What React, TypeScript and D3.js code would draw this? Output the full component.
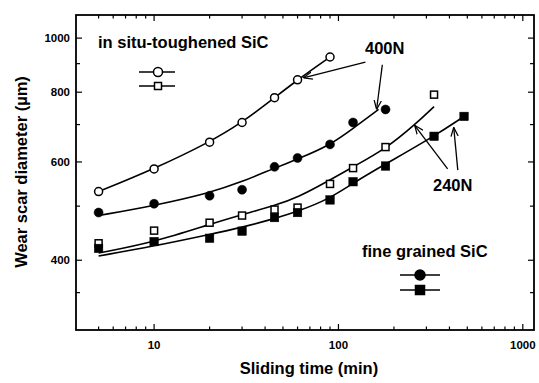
import React, { useLayoutEffect, useRef } from "react";
import * as d3 from "d3";

const W = 539;
const H = 383;
const margin = { top: 15, right: 5, bottom: 53, left: 76 };

// in situ-toughened SiC, 400N (open circles)
const insitu400Times = [5, 10, 20, 30, 45, 60, 90];
const insitu400 = [531, 583, 651, 706, 782, 842, 925];
// fine grained SiC, 400N (filled circles)
const fine400Times = [5, 10, 20, 30, 45, 60, 90, 120, 180];
const fine400 = [487, 505, 522, 535, 588, 610, 645, 706, 745];
// in situ-toughened SiC, 240N (open squares)
const insitu240Times = [5, 10, 20, 30, 45, 60, 90, 120, 180, 330];
const insitu240 = [429, 452, 467, 481, 493, 497, 548, 585, 638, 792];
// fine grained SiC, 240N (filled squares)
const fine240Times = [5, 10, 20, 30, 45, 60, 90, 120, 180, 330, 480];
const fine240 = [420, 432, 438, 451, 477, 487, 513, 553, 590, 667, 724];

// fitted curves
const fitInsitu400Times = [5, 10, 20, 30, 45, 60, 90];
const fitInsitu400 = [531, 583, 651, 706, 782, 842, 925];
const fitFine400Times = [5, 10, 20, 30, 45, 60, 90, 120, 165];
const fitFine400 = [481, 501, 528, 553, 585, 607, 643, 689, 745];
const fitInsitu240Times = [5, 10, 20, 30, 45, 60, 90, 120, 180, 260, 330];
const fitInsitu240 = [412, 431, 464, 483, 501, 518, 557, 588, 633, 700, 754];
const fitFine240Times = [5, 10, 20, 30, 45, 60, 90, 120, 180, 330, 480];
const fitFine240 = [407, 424, 445, 458, 475, 489, 516, 550, 595, 667, 724];

const xMajor = [10, 100, 1000];
const xMinor = [5, 6, 7, 8, 9, 20, 30, 40, 50, 60, 70, 80, 90, 200, 300, 400, 500, 600, 700, 800, 900];
const yMajor = [400, 600, 800, 1000];
const yMinor = [350, 500, 700, 900];

const FONT = "'Liberation Sans', Arial, Helvetica, sans-serif";

export default function App() {
  const svgRef = useRef<SVGSVGElement>(null);

  useLayoutEffect(() => {
    const svg = d3.select(svgRef.current);
    svg.selectAll("*").remove();

    const left = margin.left;
    const right = W - margin.right;
    const top = margin.top;
    const bottom = H - margin.bottom;

    const x = d3.scaleLog().domain([3.77, 1150]).range([left, right]);
    const y = d3.scaleLog().domain([300, 1100]).range([bottom, top]);

    svg.append("rect").attr("width", W).attr("height", H).attr("fill", "#fff");

    // arrow marker
    svg
      .append("defs")
      .append("marker")
      .attr("id", "arr")
      .attr("viewBox", "0 0 10 10")
      .attr("refX", 10)
      .attr("refY", 5)
      .attr("markerWidth", 9)
      .attr("markerHeight", 9)
      .attr("markerUnits", "userSpaceOnUse")
      .attr("orient", "auto")
      .append("path")
      .attr("d", "M0,1 L10,5 L0,9")
      .attr("fill", "none")
      .attr("stroke", "#000")
      .attr("stroke-width", 1.4);

    // frame + ticks
    const axis = svg.append("g").attr("stroke", "#000").attr("fill", "none");
    axis
      .append("rect")
      .attr("x", left)
      .attr("y", top)
      .attr("width", right - left)
      .attr("height", bottom - top)
      .attr("stroke-width", 1.8);

    const xt = [...xMajor.map((v) => ({ v, len: 6 })), ...xMinor.map((v) => ({ v, len: 3.5 }))];
    xt.forEach(({ v, len }) => {
      axis.append("line").attr("x1", x(v)).attr("x2", x(v)).attr("y1", bottom).attr("y2", bottom - len).attr("stroke-width", 1.2);
      axis.append("line").attr("x1", x(v)).attr("x2", x(v)).attr("y1", top).attr("y2", top + len).attr("stroke-width", 1.2);
    });
    const yt = [...yMajor.map((v) => ({ v, len: 6 })), ...yMinor.map((v) => ({ v, len: 4 }))];
    yt.forEach(({ v, len }) => {
      axis.append("line").attr("x1", left).attr("x2", left + len).attr("y1", y(v)).attr("y2", y(v)).attr("stroke-width", 1.2);
      axis.append("line").attr("x1", right).attr("x2", right - len).attr("y1", y(v)).attr("y2", y(v)).attr("stroke-width", 1.2);
    });

    // tick labels
    svg
      .append("g")
      .selectAll("text")
      .data(xMajor)
      .join("text")
      .attr("x", (d) => x(d))
      .attr("y", bottom + 19)
      .attr("text-anchor", "middle")
      .attr("font-family", FONT)
      .attr("font-weight", "bold")
      .attr("font-size", 11.5)
      .text((d) => d);
    svg
      .append("g")
      .selectAll("text")
      .data(yMajor)
      .join("text")
      .attr("x", left - 6)
      .attr("y", (d) => y(d) + 4)
      .attr("text-anchor", "end")
      .attr("font-family", FONT)
      .attr("font-weight", "bold")
      .attr("font-size", 11.5)
      .text((d) => d);

    // axis titles
    svg
      .append("text")
      .attr("x", 309)
      .attr("y", 374)
      .attr("text-anchor", "middle")
      .attr("font-family", FONT)
      .attr("font-weight", "bold")
      .attr("font-size", 16.5)
      .text("Sliding time (min)");
    svg
      .append("text")
      .attr("transform", "translate(27,172) rotate(-90)")
      .attr("text-anchor", "middle")
      .attr("font-family", FONT)
      .attr("font-weight", "bold")
      .attr("font-size", 16.5)
      .text("Wear scar diameter (\u00b5m)");

    // fitted curves
    const line = d3
      .line<[number, number]>()
      .x((d) => x(d[0]))
      .y((d) => y(d[1]))
      .curve(d3.curveBasis);
    const fits: [number[], number[]][] = [
      [fitInsitu400Times, fitInsitu400],
      [fitFine400Times, fitFine400],
      [fitInsitu240Times, fitInsitu240],
      [fitFine240Times, fitFine240],
    ];
    const gl = svg.append("g").attr("fill", "none").attr("stroke", "#000").attr("stroke-width", 1.6);
    fits.forEach(([ts, vs]) => {
      gl.append("path").attr("d", line(ts.map((t, i) => [t, vs[i]] as [number, number])));
    });

    // markers
    const pts = (ts: number[], vs: number[]) => ts.map((t, i) => ({ t, v: vs[i] }));
    const gm = svg.append("g").attr("stroke", "#000");
    gm.selectAll(".oc")
      .data(pts(insitu400Times, insitu400))
      .join("circle")
      .attr("cx", (d) => x(d.t))
      .attr("cy", (d) => y(d.v))
      .attr("r", 4)
      .attr("fill", "#fff")
      .attr("stroke-width", 1.5);
    gm.selectAll(".fc")
      .data(pts(fine400Times, fine400))
      .join("circle")
      .attr("cx", (d) => x(d.t))
      .attr("cy", (d) => y(d.v))
      .attr("r", 4.5)
      .attr("fill", "#000")
      .attr("stroke-width", 0.5);
    gm.selectAll(".os")
      .data(pts(insitu240Times, insitu240))
      .join("rect")
      .attr("x", (d) => x(d.t) - 3.5)
      .attr("y", (d) => y(d.v) - 3.5)
      .attr("width", 7)
      .attr("height", 7)
      .attr("fill", "#fff")
      .attr("stroke-width", 1.5);
    gm.selectAll(".fs")
      .data(pts(fine240Times, fine240))
      .join("rect")
      .attr("x", (d) => x(d.t) - 4.25)
      .attr("y", (d) => y(d.v) - 4.25)
      .attr("width", 8.5)
      .attr("height", 8.5)
      .attr("fill", "#000")
      .attr("stroke-width", 0.5);

    // legends
    const txt = (tx: number, ty: number, s: string) =>
      svg
        .append("text")
        .attr("x", tx)
        .attr("y", ty)
        .attr("font-family", FONT)
        .attr("font-weight", "bold")
        .attr("font-size", 16.5)
        .text(s);
    txt(98, 48, "in situ-toughened SiC");
    txt(362, 257, "fine grained SiC");
    txt(365, 54, "400N");
    txt(433, 191, "240N");

    const lg = svg.append("g").attr("stroke", "#000").attr("stroke-width", 1.5);
    [72, 86].forEach((ly) => lg.append("line").attr("x1", 139).attr("x2", 175).attr("y1", ly).attr("y2", ly));
    lg.append("circle").attr("cx", 158).attr("cy", 72).attr("r", 4.5).attr("fill", "#fff");
    lg.append("rect").attr("x", 154.5).attr("y", 82.5).attr("width", 7).attr("height", 7).attr("fill", "#fff");
    [275, 290].forEach((ly) => lg.append("line").attr("x1", 400).attr("x2", 440).attr("y1", ly).attr("y2", ly));
    lg.append("circle").attr("cx", 420).attr("cy", 275).attr("r", 5).attr("fill", "#000");
    lg.append("rect").attr("x", 415.5).attr("y", 285.5).attr("width", 9).attr("height", 9).attr("fill", "#000");

    // annotation arrows (data coordinates)
    const arrows: [number, number, number, number][] = [
      [140, 906, 64.5, 849],
      [173, 896, 161, 745],
      [391, 583, 259, 698],
      [444, 580, 422, 692],
    ];
    const ga = svg.append("g").attr("stroke", "#000").attr("stroke-width", 1.3);
    arrows.forEach(([t0, v0, t1, v1]) => {
      ga.append("line")
        .attr("x1", x(t0))
        .attr("y1", y(v0))
        .attr("x2", x(t1))
        .attr("y2", y(v1))
        .attr("marker-end", "url(#arr)");
    });

    return () => {
      svg.selectAll("*").remove();
    };
  }, []);

  return (
    <svg
      ref={svgRef}
      width={W}
      height={H}
      style={{ position: "absolute", left: 0, top: 0, display: "block" }}
    />
  );
}
